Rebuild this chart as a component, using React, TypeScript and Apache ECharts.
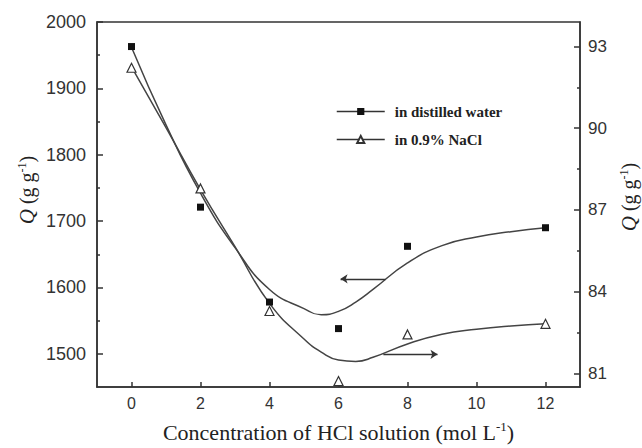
import React, { useEffect, useRef } from "react";
import * as echarts from "echarts";

// Measured points
const xValues = [0, 2, 4, 6, 8, 12];
const distilledWater = [1963, 1721, 1578, 1538, 1662, 1690];
const naclSolution = [92.22, 87.79, 83.29, 80.72, 82.43, 82.82];

// Fitted curves
const fitX = [0, 1, 2, 3, 4, 5, 5.5, 6, 6.5, 7, 8, 9, 10, 11, 12];
const fitDistilled = [1962, 1845, 1742, 1660, 1597, 1568, 1559, 1564, 1578, 1597, 1637, 1663, 1676, 1684, 1690];
const fitNacl = [92.25, 90.02, 87.75, 85.65, 83.57, 82.26, 81.78, 81.49, 81.44, 81.59, 82.08, 82.44, 82.62, 82.74, 82.82];

// Arrows [fromX, toX, y]
const arrowLeft = [7.36, 6.06, 1613];
const arrowRight = [7.3, 8.87, 81.7];

// Ticks
const xTicks = [0, 2, 4, 6, 8, 10, 12];
const leftTicks = [1500, 1600, 1700, 1800, 1900, 2000];
const leftMinor = [1550, 1650, 1750, 1850, 1950];
const rightTicks = [81, 84, 87, 90, 93];
const rightMinor = [82.5, 85.5, 88.5, 91.5];

const names = ["in distilled water", "in 0.9% NaCl"];

const AX = "#333";
const LABEL_FONT = "Liberation Sans";
const SERIF = "Liberation Serif";

export default function App() {
  const ref = useRef<HTMLDivElement>(null);
  useEffect(() => {
    if (!ref.current) return;
    const chart = echarts.init(ref.current, undefined, { renderer: "svg" });
    const pair = (xs: number[], ys: number[]) => xs.map((x, i) => [x, ys[i]]);
    const lineStyle = { color: AX, width: 1.5 };
    const plain = (v: number) => String(v);
    const titleStyle = {
      text: "{q|Q} (g g{s|-1})",
      align: "center",
      verticalAlign: "middle",
      font: `20px "${SERIF}"`,
      fill: "#222",
      rich: {
        q: { fontFamily: SERIF, fontStyle: "italic", fontSize: 21, fill: "#222" },
        s: { fontFamily: SERIF, fontSize: 12, fill: "#222", padding: [0, 0, 10, 0] },
      },
    };
    const option: any = {
      animation: false,
      backgroundColor: "#fff",
      grid: {
        left: 97,
        right: 62,
        top: 22,
        bottom: 53,
        show: true,
        borderColor: AX,
        borderWidth: 1.5,
        backgroundColor: "transparent",
      },
      legend: {
        data: names,
        orient: "vertical",
        left: 331,
        top: 99,
        itemWidth: 48,
        itemHeight: 9,
        itemGap: 13,
        lineStyle: { color: AX, width: 1.5, opacity: 1 },
        textStyle: {
          fontFamily: SERIF,
          fontWeight: "bold",
          fontSize: 15,
          color: "#222",
          padding: [0, 0, 0, 5],
        },
      },
      xAxis: {
        type: "value",
        min: -1,
        max: 13,
        axisLine: { show: true, onZero: false, lineStyle },
        axisTick: { show: true, inside: true, length: 5, customValues: xTicks, lineStyle },
        axisLabel: {
          customValues: xTicks,
          formatter: plain,
          margin: 8,
          fontFamily: LABEL_FONT,
          fontSize: 16,
          color: "#333",
        },
        splitLine: { show: false },
        name: "Concentration of HCl solution (mol L{s|-1})",
        nameLocation: "middle",
        nameGap: 33,
        nameTextStyle: {
          fontFamily: SERIF,
          fontSize: 22,
          color: "#222",
          rich: {
            s: { fontFamily: SERIF, fontSize: 13, color: "#222", padding: [0, 0, 11, 0] },
          },
        },
      },
      yAxis: [
        {
          type: "value",
          position: "left",
          min: 1450,
          max: 2000,
          axisLine: { show: true, onZero: false, lineStyle },
          axisTick: { show: true, inside: true, length: 6, customValues: leftTicks, lineStyle },
          axisLabel: {
            customValues: leftTicks,
            formatter: plain,
            margin: 11,
            fontFamily: LABEL_FONT,
            fontSize: 18,
            color: "#333",
          },
          splitLine: { show: false },
        },
        {
          type: "value",
          position: "right",
          min: 80.5,
          max: 93.9,
          axisLine: { show: true, onZero: false, lineStyle },
          axisTick: { show: true, inside: true, length: 6, customValues: rightTicks, lineStyle },
          axisLabel: {
            customValues: rightTicks,
            formatter: plain,
            margin: 8,
            fontFamily: LABEL_FONT,
            fontSize: 17,
            color: "#333",
          },
          splitLine: { show: false },
        },
        {
          type: "value",
          position: "left",
          min: 1450,
          max: 2000,
          axisLine: { show: false, onZero: false },
          axisTick: { show: true, inside: true, length: 3, customValues: leftMinor, lineStyle },
          axisLabel: { show: false },
          splitLine: { show: false },
        },
        {
          type: "value",
          position: "right",
          min: 80.5,
          max: 93.9,
          axisLine: { show: false, onZero: false },
          axisTick: { show: true, inside: true, length: 3, customValues: rightMinor, lineStyle },
          axisLabel: { show: false },
          splitLine: { show: false },
        },
      ],
      graphic: [
        { type: "text", x: 27, y: 190, rotation: Math.PI / 2, style: titleStyle },
        { type: "text", x: 629, y: 197, rotation: Math.PI / 2, style: titleStyle },
      ],
      series: [
        {
          type: "line",
          name: "fit-distilled",
          yAxisIndex: 0,
          data: pair(fitX, fitDistilled),
          smooth: 0.5,
          showSymbol: false,
          symbol: "none",
          lineStyle: { color: "#444", width: 1.5 },
          z: 2,
          markLine: {
            silent: true,
            symbol: ["none", "arrow"],
            symbolSize: 7,
            label: { show: false },
            lineStyle: { color: "#333", width: 1.3, type: "solid" },
            data: [
              [
                { coord: [arrowLeft[0], arrowLeft[2]] },
                { coord: [arrowLeft[1], arrowLeft[2]] },
              ],
            ],
          },
        },
        {
          type: "line",
          name: "fit-nacl",
          yAxisIndex: 1,
          data: pair(fitX, fitNacl),
          smooth: 0.5,
          showSymbol: false,
          symbol: "none",
          lineStyle: { color: "#444", width: 1.5 },
          z: 2,
          markLine: {
            silent: true,
            symbol: ["none", "arrow"],
            symbolSize: 7,
            label: { show: false },
            lineStyle: { color: "#333", width: 1.3, type: "solid" },
            data: [
              [
                { coord: [arrowRight[0], arrowRight[2]] },
                { coord: [arrowRight[1], arrowRight[2]] },
              ],
            ],
          },
        },
        {
          type: "line",
          name: names[0],
          yAxisIndex: 0,
          data: pair(xValues, distilledWater),
          symbol: "rect",
          symbolSize: 7,
          itemStyle: { color: "#111" },
          lineStyle: { width: 0, opacity: 0, color: AX },
          z: 4,
        },
        {
          type: "line",
          name: names[1],
          yAxisIndex: 1,
          data: pair(xValues, naclSolution),
          symbol: "triangle",
          symbolSize: 9,
          itemStyle: { color: "#fff", borderColor: "#333", borderWidth: 1.2 },
          lineStyle: { width: 0, opacity: 0, color: AX },
          z: 4,
        },
      ],
    };
    chart.setOption(option);
    return () => chart.dispose();
  }, []);
  return <div ref={ref} style={{ width: 642, height: 448, position: "absolute", left: 0, top: 0 }} />;
}
